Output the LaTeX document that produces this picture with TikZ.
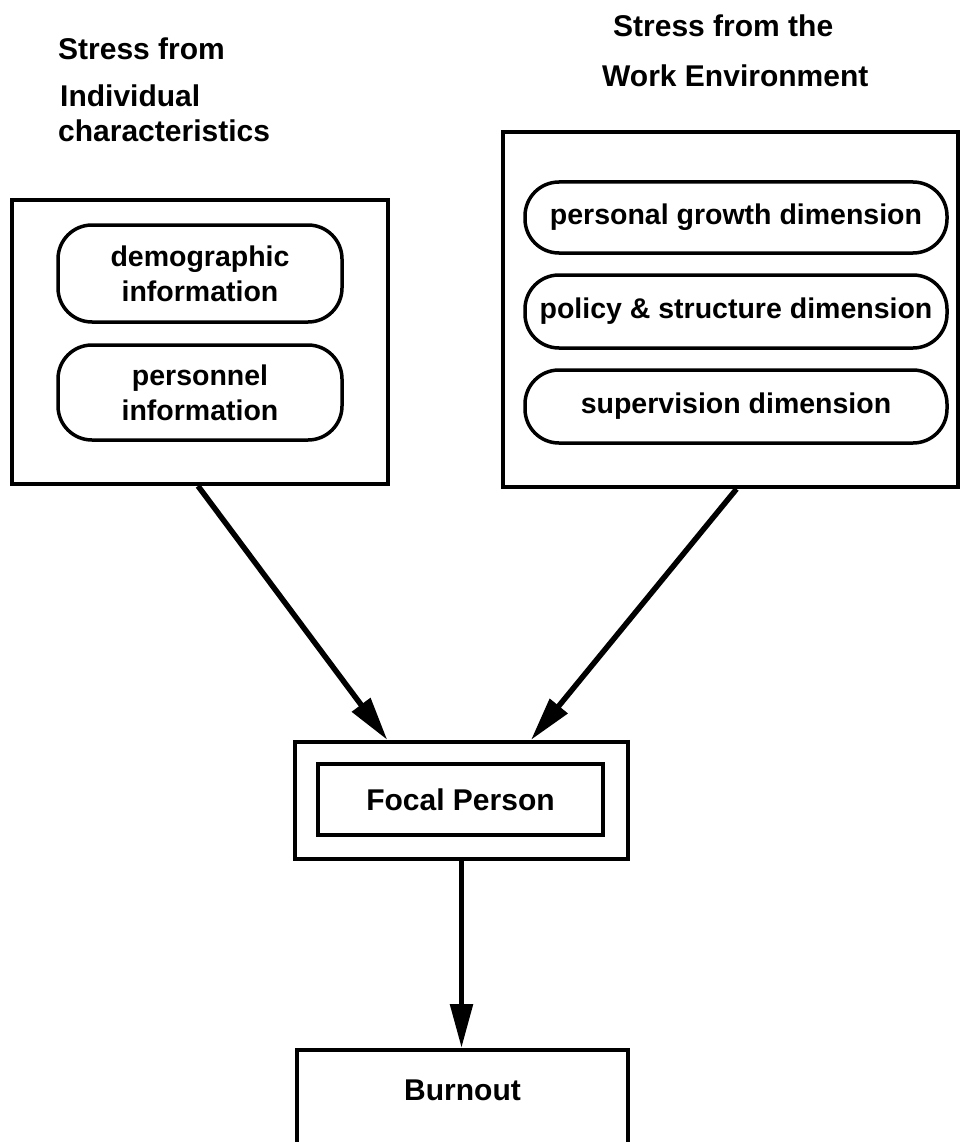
\documentclass[tikz,border=0pt]{standalone}
\usepackage{fontspec}
\setmainfont{Liberation Sans}
\usetikzlibrary{arrows.meta,calc}
\begin{document}
\begin{tikzpicture}[x=1pt,y=-1pt,
  outerbox/.style={draw=black, line width=4pt, rectangle, inner sep=0pt},
  pill/.style={draw=black, line width=3.5pt, rectangle, rounded corners=34pt, inner sep=0pt, align=center, font=\fontsize{28.5}{35}\selectfont\bfseries},
  head/.style={inner sep=0pt, anchor=base west, font=\fontsize{30}{35}\selectfont\bfseries},
  conn/.style={line width=5.5pt, -{Triangle[length=44pt,width=22pt]}}
]
\useasboundingbox (0,0) rectangle (961,1142);
\clip (0,0) rectangle (961,1142);
\fill[white] (0,0) rectangle (961,1142);

% headings
\node[head] (h1) at (58,60) {Stress from};
\node[head] (h2) at (60,107) {Individual};
\node[head] (h3) at (58,142) {characteristics};
\node[head] (h4) at (613,37) {Stress from the};
\node[head] (h5) at (602,87) {Work Environment};

% left group
\node[outerbox, minimum width=376pt, minimum height=284pt] (left) at (200,342) {};
\node[pill, minimum width=284pt, minimum height=97pt] (demo) at (200,273.5) {demographic\\information};
\node[pill, minimum width=284pt, minimum height=95pt] (pers) at (200,392.5) {personnel\\information};

% right group
\node[outerbox, minimum width=455pt, minimum height=355pt] (right) at (730.5,309.5) {};
\node[pill, minimum width=422pt, minimum height=71pt] (growth) at (736,217.5) {personal growth dimension};
\node[pill, minimum width=422pt, minimum height=73pt] (policy) at (736,311.5) {policy \& structure dimension};
\node[pill, minimum width=422pt, minimum height=73pt] (superv) at (736,406.5) {supervision dimension};

% focal person
\node[outerbox, minimum width=333pt, minimum height=117pt] (focal) at (461.5,800.5) {};
\node[outerbox, line width=3.5pt, minimum width=285pt, minimum height=71pt, font=\fontsize{30}{35}\selectfont\bfseries] (focalin) at (460.5,799.5) {Focal Person};

% burnout
\node[outerbox, anchor=north, minimum width=331pt, text height=21pt, text depth=80pt, inner ysep=29pt, font=\fontsize{30}{35}\selectfont\bfseries] (burnout) at (462.5,1048) {Burnout};

% connectors
\draw[conn] ($(left.south)+(-2,0)$) -- ($(focal.north west)!0.28!(focal.north east)$);
\draw[conn] ($(right.south)+(6,0)$) -- ($(focal.north west)!0.706!(focal.north east)$);
\draw[conn] (focal.south) -- (focal.south |- burnout.north);
\end{tikzpicture}
\end{document}
